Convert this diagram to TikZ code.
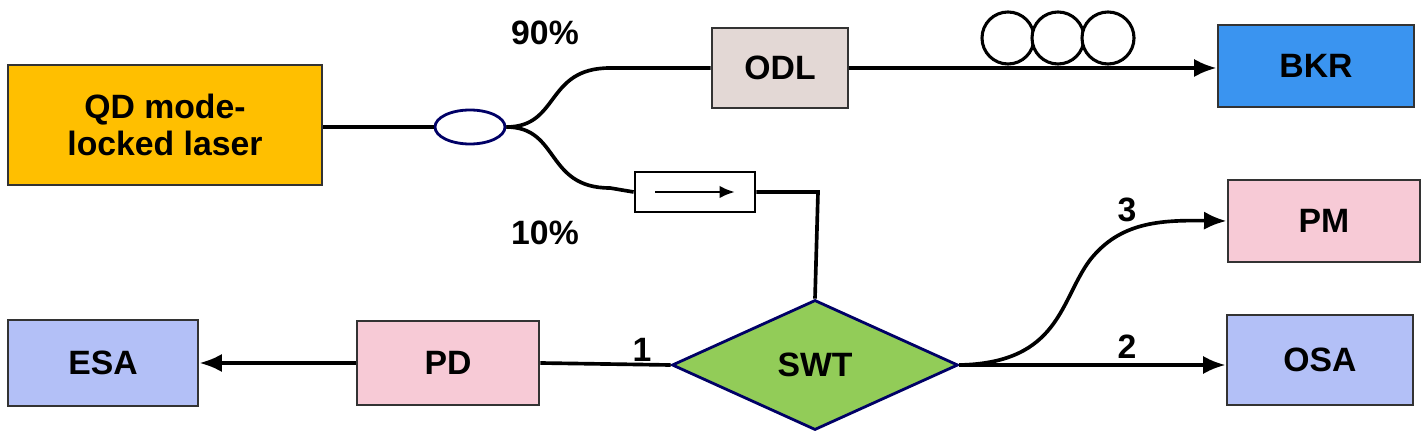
\documentclass[tikz,border=0pt]{standalone}
\usepackage{fontspec}
\setmainfont{Liberation Sans}
\usetikzlibrary{shapes.geometric,arrows.meta}
\begin{document}
\begin{tikzpicture}[x=0.025cm,y=-0.025cm,
  box/.style={draw=black!80,line width=2pt,minimum width=#1,inner sep=0pt,font=\fontsize{24}{26}\selectfont\bfseries,align=center},
  fib/.style={line width=2.6pt},
  lab/.style={font=\fontsize{24}{26}\selectfont\bfseries},
  arr/.style={fib,-{Latex[length=16pt,width=13pt]}}]
\useasboundingbox (0,0) rectangle (1425,431);
\definecolor{qd}{HTML}{FFBF00}\definecolor{odl}{HTML}{E3D8D5}\definecolor{bkr}{HTML}{3A94F0}
\definecolor{pink}{HTML}{F7CAD6}\definecolor{lav}{HTML}{B3C0F7}\definecolor{grn}{HTML}{92CC58}
\node[box=7.85cm,minimum height=3cm,fill=qd] (qd) at (165,125) {QD mode-\\locked laser};
\node[ellipse,draw=blue!40!black,line width=2pt,fill=white,minimum width=1.75cm,minimum height=0.85cm,inner sep=0pt] (cp) at (470,127) {};
\node[box=3.4cm,minimum height=2cm,fill=odl] (odl) at (780,68) {ODL};
\node[box=4.9cm,minimum height=2.05cm,fill=bkr] (bkr) at (1316,66) {BKR};
\node[draw=black,line width=2pt,fill=white,minimum width=3cm,minimum height=1cm,inner sep=0pt] (iso) at (695,192) {};
\node[diamond,draw=blue!40!black,line width=2pt,fill=grn,minimum width=7.15cm,minimum height=3.25cm,inner sep=0pt,aspect=2.2,font=\fontsize{24}{26}\selectfont\bfseries] (swt) at (815,365) {SWT};
\node[box=4.55cm,minimum height=2.1cm,fill=pink] (pd) at (448,363) {PD};
\node[box=4.75cm,minimum height=2.15cm,fill=lav] (esa) at (103,363) {ESA};
\node[box=4.65cm,minimum height=2.25cm,fill=lav] (osa) at (1320,360) {OSA};
\node[box=4.8cm,minimum height=2.05cm,fill=pink] (pm) at (1324,221) {PM};
\draw[fib] (qd.east |- cp) -- (cp.west);
\draw[fib] (cp.east) .. controls (560,127) and (545,68) .. (610,68) -- (odl.west);
\draw[fib] (cp.east) .. controls (560,127) and (545,188) .. (610,188) -- (iso.west);
\draw[line width=2pt,-{Latex[length=11pt,width=9pt]}] (655,192) -- (735,192);
\coordinate (k) at (818,192);
\draw[fib] (iso.east) -- (k) -- (swt.north);
\draw[arr] (odl.east) -- (bkr.west |- odl.east);
\foreach \cx in {1008,1058,1108} \draw[line width=2.2pt,fill=white] (\cx,38) circle[radius=0.65cm];
\draw[fib] (swt.west) -- (pd.east);
\draw[arr] (pd.west) -- (esa.east);
\draw[arr] (swt.east) -- (osa.west |- swt.east);
\draw[arr] (swt.east) .. controls (1060,363) and (1060,300) .. (1090,260) .. controls (1120,222) and (1160,220) .. (pm.west);
\node[lab] (l90) at (545,33) {90\%};
\node[lab] (l10) at (545,233) {10\%};
\node[lab] (l1) at (642,350) {1};
\node[lab] (l2) at (1127,347) {2};
\node[lab] (l3) at (1127,210) {3};
\end{tikzpicture}
\end{document}
